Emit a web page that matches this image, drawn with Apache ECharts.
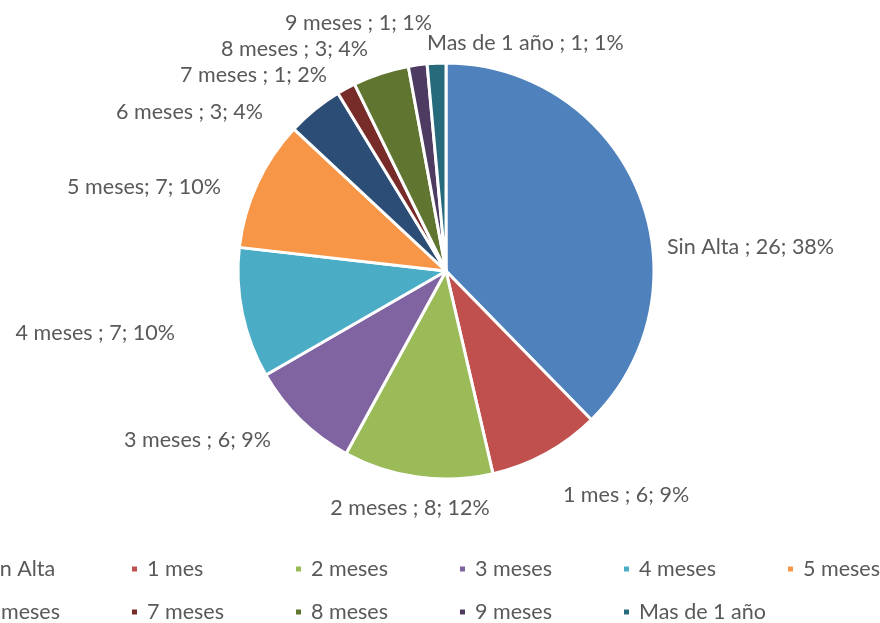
<!DOCTYPE html>
<html><head><meta charset="utf-8">
<script src="https://cdn.jsdelivr.net/npm/echarts@6/dist/echarts.min.js"></script>
<style>html,body{margin:0;padding:0;background:#fff;}#c{width:880px;height:623px;}</style>
</head><body><div id="c"></div>
<script>
const categories = ['Sin Alta','1 mes','2 meses','3 meses','4 meses','5 meses','6 meses','7 meses','8 meses','9 meses','Mas de 1 año'];
const values = [26, 6, 8, 6, 7, 7, 3, 1, 3, 1, 1];
const percents = [38, 9, 12, 9, 10, 10, 4, 2, 4, 1, 1];
const labelNames = ['Sin Alta ','1 mes ','2 meses ','3 meses ','4 meses ','5 meses','6 meses ','7 meses ','8 meses ','9 meses ','Mas de 1 año '];
const colors = ['#4F81BD','#C0504D','#9BBB59','#8064A2','#4BACC6','#F79646','#2C4D75','#772C2A','#5F7530','#4D3B62','#276A7C'];

// label anchor placement (Excel "best fit" style), layout only
const labelAnchors = [
  {x:667, y:247, align:'left'},
  {x:626, y:495, align:'center'},
  {x:410, y:508, align:'center'},
  {x:271, y:440, align:'right'},
  {x:175, y:333, align:'right'},
  {x:221, y:187, align:'right'},
  {x:263, y:112, align:'right'},
  {x:327, y:75,  align:'right'},
  {x:368, y:49,  align:'right'},
  {x:432, y:23,  align:'right'},
  {x:427, y:43,  align:'left'}
];

const FONT = 'Lato';
const FS = 21.5;
const chart = echarts.init(document.getElementById('c'), null, {renderer:'canvas'});
const legendCommon = {
  orient:'horizontal', left:-34, width:1100, padding:0, itemGap:17,
  itemWidth:7, itemHeight:7, icon:'rect',
  formatter: name => '{a|' + name + '}',
  textStyle:{fontFamily:FONT, fontSize:FS, color:'#595959',
    rich:{a:{fontFamily:FONT, fontSize:FS, color:'#595959', width:130, lineHeight:22, padding:[0,0,0,4]}}}
};
chart.setOption({
  animation:false,
  color: colors,
  legend:[
    Object.assign({}, legendCommon, {top:558, data:categories.slice(0,6)}),
    Object.assign({}, legendCommon, {top:601, data:categories.slice(6)})
  ],
  series:[{
    type:'pie',
    center:[446,271],
    radius:[0,208],
    startAngle:90,
    clockwise:true,
    avoidLabelOverlap:false,
    itemStyle:{borderColor:'#fff', borderWidth:3},
    label:{
      show:true, position:'outside', fontFamily:FONT, fontSize:FS, color:'#595959',
      formatter: p => labelNames[p.dataIndex] + '; ' + values[p.dataIndex] + '; ' + percents[p.dataIndex] + '%'
    },
    labelLine:{show:false, length:8, length2:0},
    labelLayout: p => {
      const a = labelAnchors[p.dataIndex];
      return {x:a.x, y:a.y, align:a.align, verticalAlign:'middle'};
    },
    data: categories.map((c,i)=>({name:c, value:values[i]}))
  }]
});
</script></body></html>
